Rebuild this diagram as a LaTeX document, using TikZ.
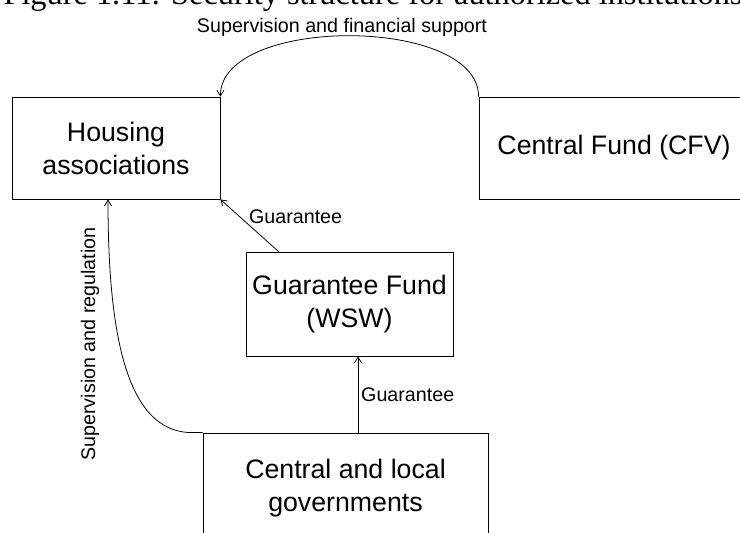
\documentclass[tikz,border=0pt]{standalone}
\usepackage{fontspec}
\setmainfont{Liberation Sans}
\newfontfamily\captionfont{Liberation Serif}
\usepackage{tikz}
\usetikzlibrary{calc}
\usetikzlibrary{arrows.meta}
\newcommand{\pxu}{0.025cm}
\tikzstyle{box}=[draw, line width=0.6pt, align=center, inner sep=0pt, font=\fontsize{19}{23.5}\selectfont]
\tikzstyle{lbl}=[inner sep=2pt, font=\fontsize{14}{17}\selectfont]
\tikzstyle{link}=[-{Straight Barb[length=4pt,width=5pt]}, line width=0.55pt]

\begin{document}
\begin{tikzpicture}
        [x=\pxu,y=\pxu]
            \useasboundingbox (0,0) rectangle (740,-532);
            \clip (0,0) rectangle (740,-532);
            \node [anchor=base, inner sep=0pt, font=\captionfont\fontsize{23}{27}\selectfont] (title) at (373,-5) {Figure 1.11: Security structure for authorized institutions};
            \node [box, minimum width=208*\pxu, minimum height=102*\pxu] (hous) at (116,-148) {Housing\\associations};
            \node [box, minimum width=270*\pxu, minimum height=102*\pxu] (cfv) at (614,-148) {Central Fund (CFV)};
            \node [box, minimum width=207*\pxu, minimum height=104*\pxu] (wsw) at (349.5,-304) {Guarantee Fund\\(WSW)};
            \node [box, minimum width=285*\pxu, minimum height=111*\pxu] (gov) at (345.5,-488.5) {Central and local\\governments};
            \draw [link] (cfv.north west) .. controls +(0,81) and +(0,81) .. (hous.north east);
            \node [lbl, anchor=base] (finsup) at (342,-33) {Supervision and financial support};
            \draw [link] ($(wsw.north west)+(33,0)$) -- (hous.south east);
            \node [lbl, anchor=west] (guar1) at (246,-217) {Guarantee};
            \draw [link] ($(gov.north)+(12.5,0)$) -- node [lbl, right] (guar2) {Guarantee} ($(wsw.south)+(8.5,0)$);
            \draw [link] (gov.north west) -- ++(-10,0) .. controls (125,-433) and (108,-330) .. ($(hous.south)+(-8,0)$);
            \node [lbl, rotate=90] (supreg) at (90,-344) {Supervision and regulation};
        \end{tikzpicture}
\end{document}
